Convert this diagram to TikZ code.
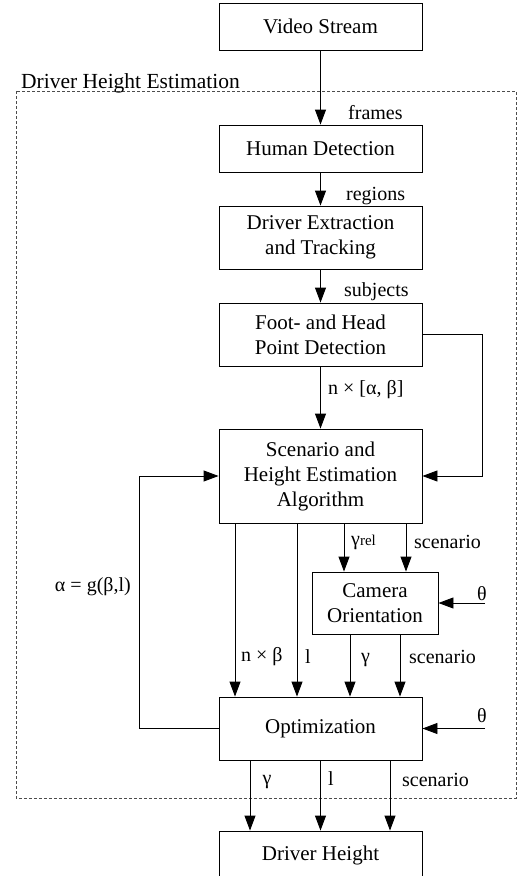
\documentclass[tikz,border=0pt]{standalone}
\usepackage{fontspec}
\setmainfont{Liberation Serif}
\usetikzlibrary{arrows.meta}
\begin{document}
\begin{tikzpicture}[x=1pt,y=-1pt]
  \tikzset{block/.style={draw,line width=0.9pt,minimum width=203pt,minimum height=#1,align=center,font=\fontsize{21}{25}\selectfont,inner sep=0pt},
    flow/.style={draw,line width=0.9pt,-{Triangle[length=15pt,width=11pt]}},
    lbl/.style={font=\fontsize{20}{24}\selectfont,inner sep=0pt}}

  \useasboundingbox (0,0) rectangle (524,876);
  \draw[dash pattern=on 3pt off 2pt,line width=0.7pt,black!70] (16,91) rectangle (516,798);
  \node[lbl,anchor=base west,font=\fontsize{21.5}{24}\selectfont] (dhe) at (21,88) {Driver Height Estimation};

  \node[block=47pt] (video) at (320.5,26.5) {Video Stream};
  \node[block=47pt] (human) at (320.5,148.5) {Human Detection};
  \node[block=63pt] (extract) at (320.5,237.5) {Driver Extraction\\and Tracking};
  \node[block=63pt] (foot) at (320.5,334.5) {Foot- and Head\\Point Detection};
  \node[block=94pt] (scen) at (320.5,476) {Scenario and\\Height Estimation\\Algorithm};
  \node[block=62pt,minimum width=126pt] (cam) at (375,603) {Camera\\Orientation};
  \node[block=63pt] (opt) at (320.5,728.5) {Optimization};
  \node[block=48pt] (height) at (320.5,855) {Driver Height};

  \coordinate (rgt) at (482,0);
  \coordinate (fbx) at (139,0);
  \coordinate (th) at (485,0);
  \coordinate (sa) at (235,0);
  \coordinate (sb) at (297,0);
  \coordinate (sc) at (344,0);
  \coordinate (sd) at (406,0);
  \coordinate (ca) at (350,0);
  \coordinate (cb) at (400,0);
  \coordinate (oa) at (250,0);
  \coordinate (ob) at (320.5,0);
  \coordinate (oc) at (390,0);

  \draw[flow] (video) -- (human);
  \draw[flow] (human) -- (extract);
  \draw[flow] (extract) -- (foot);
  \draw[flow] (foot) -- (scen);
  \draw[flow] (foot.east) -- (foot.east -| rgt) -- (scen.east -| rgt) -- (scen.east);
  \draw[flow] (opt.west) -- (opt.west -| fbx) -- (scen.west -| fbx) -- (scen.west);
  \draw[flow] (scen.south -| sa) -- (opt.north -| sa);
  \draw[flow] (scen.south -| sb) -- (opt.north -| sb);
  \draw[flow] (scen.south -| sc) -- (cam.north -| sc);
  \draw[flow] (scen.south -| sd) -- (cam.north -| sd);
  \draw[flow] (cam.south -| ca) -- (opt.north -| ca);
  \draw[flow] (cam.south -| cb) -- (opt.north -| cb);
  \draw[flow] (cam.east -| th) -- (cam.east);
  \draw[flow] (opt.east -| th) -- (opt.east);
  \draw[flow] (opt.south -| oa) -- (height.north -| oa);
  \draw[flow] (opt.south -| ob) -- (height.north -| ob);
  \draw[flow] (opt.south -| oc) -- (height.north -| oc);

  \node[lbl,anchor=west] (frames) at (348,113) {frames};
  \node[lbl,anchor=west] (regions) at (346,196) {regions};
  \node[lbl,anchor=west] (subjects) at (344,292) {subjects};
  \node[lbl,anchor=west] (nab) at (328,390) {n × [α, β]};
  \node[lbl,anchor=east] (galpha) at (131,587) {α = g(β,l)};
  \node[lbl,anchor=west] (grel) at (351,542) {γ{\fontsize{15}{18}\selectfont rel}};
  \node[lbl,anchor=west] (scena) at (414,542) {scenario};
  \node[lbl,anchor=west] (nb) at (241,657) {n × β};
  \node[lbl,anchor=west] (la) at (305,657) {l};
  \node[lbl,anchor=west] (ga) at (361,660) {γ};
  \node[lbl,anchor=west] (scenb) at (409,657) {scenario};
  \node[lbl] (tha) at (482,594) {θ};
  \node[lbl] (thb) at (482,716) {θ};
  \node[lbl] (gb) at (267,782) {γ};
  \node[lbl] (lb) at (331,779) {l};
  \node[lbl,anchor=west] (scenc) at (402,780) {scenario};
\end{tikzpicture}
\end{document}
